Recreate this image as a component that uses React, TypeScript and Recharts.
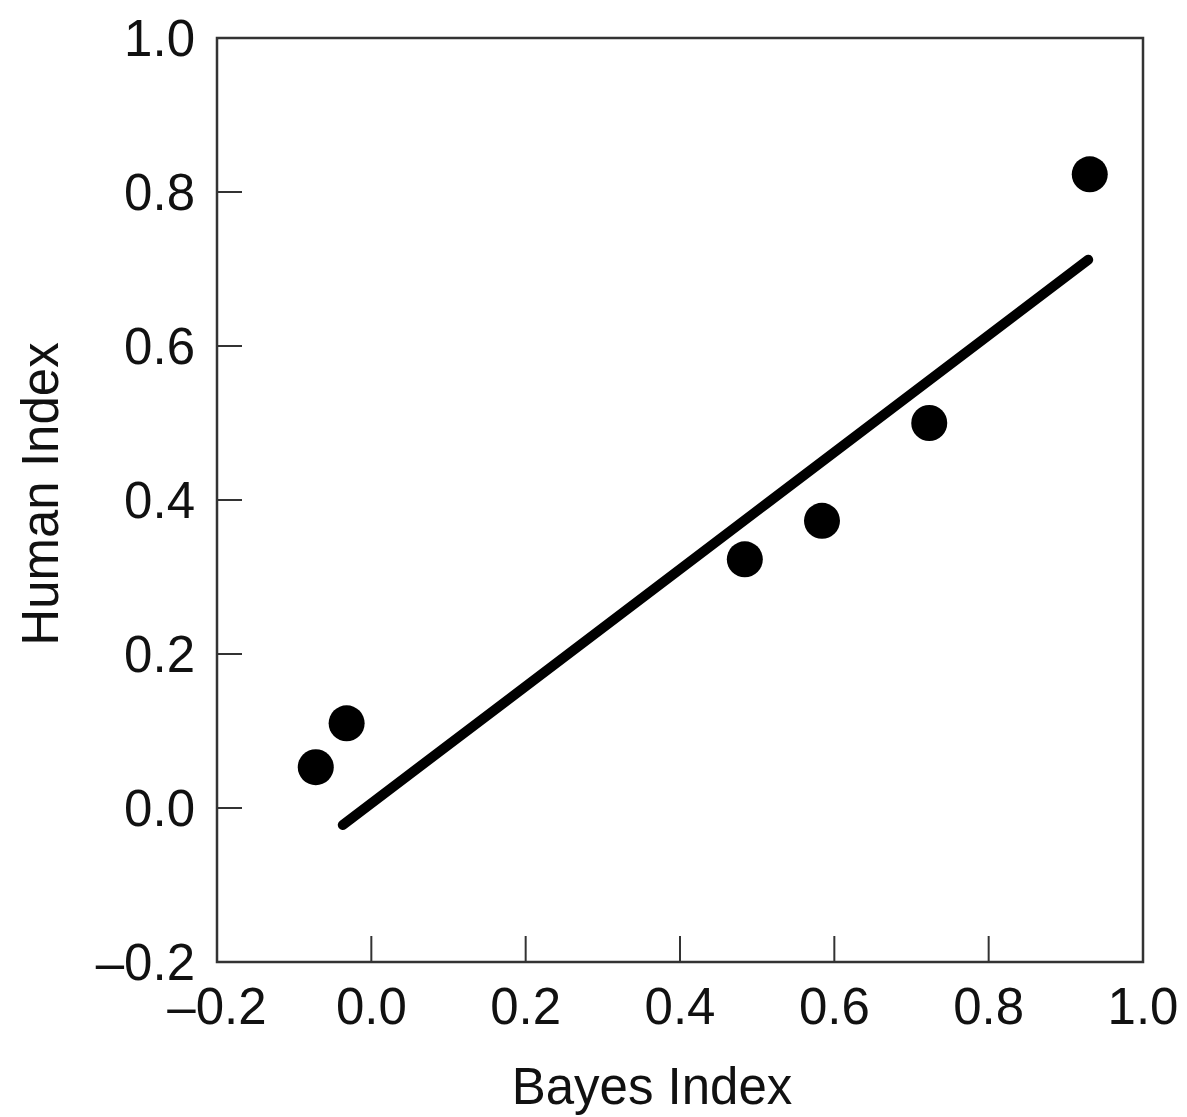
import React from 'react';
import {
  ScatterChart,
  Scatter,
  XAxis,
  YAxis,
  ReferenceLine,
  ReferenceArea,
  Label,
} from 'recharts';

// data
const bayesIndex = [-0.072, -0.032, 0.484, 0.584, 0.723, 0.931];
const humanIndex = [0.053, 0.11, 0.323, 0.373, 0.5, 0.823];

// fitted line end points
const fitStart = { x: -0.037, y: -0.022 };
const fitEnd = { x: 0.929, y: 0.712 };

const xTicks = [-0.2, 0, 0.2, 0.4, 0.6, 0.8, 1.0];
const yTicks = [-0.2, 0, 0.2, 0.4, 0.6, 0.8, 1.0];
const xDomain = [-0.2, 1.0];
const yDomain = [-0.2, 1.0];

const points = bayesIndex.map((b, i) => ({ bayes: b, human: humanIndex[i] }));

const FONT = '"Liberation Sans", Arial, Helvetica, sans-serif';
const AXIS = '#333';

const fmt = (v: number) => (v < 0 ? '\u2013' + Math.abs(v).toFixed(1) : v.toFixed(1));

const XTick = (props: any) => {
  const { x, y, payload } = props;
  const v = payload.value;
  const edge = v <= xDomain[0] || v >= xDomain[1];
  return (
    <g>
      {!edge && <line x1={x} y1={y} x2={x} y2={y - 26} stroke={AXIS} strokeWidth={2} />}
      <text x={x} y={y + 62} textAnchor="middle" fontSize={51} fontFamily={FONT} fill="#111">
        {fmt(v)}
      </text>
    </g>
  );
};

const YTick = (props: any) => {
  const { x, y, payload } = props;
  const v = payload.value;
  const edge = v <= yDomain[0] || v >= yDomain[1];
  return (
    <g>
      {!edge && <line x1={x} y1={y} x2={x + 25} y2={y} stroke={AXIS} strokeWidth={2} />}
      <text x={x - 22} y={y + 18} textAnchor="end" fontSize={51} fontFamily={FONT} fill="#111">
        {fmt(v)}
      </text>
    </g>
  );
};

const Dot = (props: any) => <circle cx={props.cx} cy={props.cy} r={18} fill="#000" />;

const App: React.FC = () => {
  return (
    <div style={{ position: 'absolute', left: 0, top: 0, width: 1187, height: 1117, background: '#fff' }}>
      <ScatterChart width={1187} height={1117} margin={{ top: 38, right: 44, left: 0, bottom: 0 }}>
        <XAxis
          type="number"
          dataKey="bayes"
          domain={xDomain}
          ticks={xTicks}
          interval={0}
          height={155}
          axisLine={false}
          tickLine={false}
          tickSize={0}
          tickMargin={0}
          tick={<XTick />}
        >
          <Label
            content={(p: any) => {
              const vb = p.viewBox;
              return (
                <text x={vb.x + vb.width / 2 - 28} y={vb.y + 142} textAnchor="middle" fontSize={51} fontFamily={FONT} fill="#111">
                  Bayes Index
                </text>
              );
            }}
          />
        </XAxis>
        <YAxis
          type="number"
          dataKey="human"
          domain={yDomain}
          ticks={yTicks}
          interval={0}
          width={217}
          axisLine={false}
          tickLine={false}
          tickSize={0}
          tickMargin={0}
          tick={<YTick />}
        >
          <Label
            content={(p: any) => {
              const vb = p.viewBox;
              const cx = vb.x + 58;
              const cy = vb.y + vb.height / 2 - 6;
              return (
                <text x={cx} y={cy} textAnchor="middle" fontSize={51} fontFamily={FONT} fill="#111" transform={`rotate(-90, ${cx}, ${cy})`}>
                  Human Index
                </text>
              );
            }}
          />
        </YAxis>
        <ReferenceArea
          x1={xDomain[0]}
          x2={xDomain[1]}
          y1={yDomain[0]}
          y2={yDomain[1]}
          fill="none"
          fillOpacity={0}
          stroke={AXIS}
          strokeWidth={2.5}
        />
        <ReferenceLine
          segment={[fitStart, fitEnd]}
          stroke="#000"
          strokeWidth={10}
          strokeLinecap="round"
          ifOverflow="visible"
        />
        <Scatter data={points} shape={<Dot />} isAnimationActive={false} />
      </ScatterChart>
    </div>
  );
};

export default App;
